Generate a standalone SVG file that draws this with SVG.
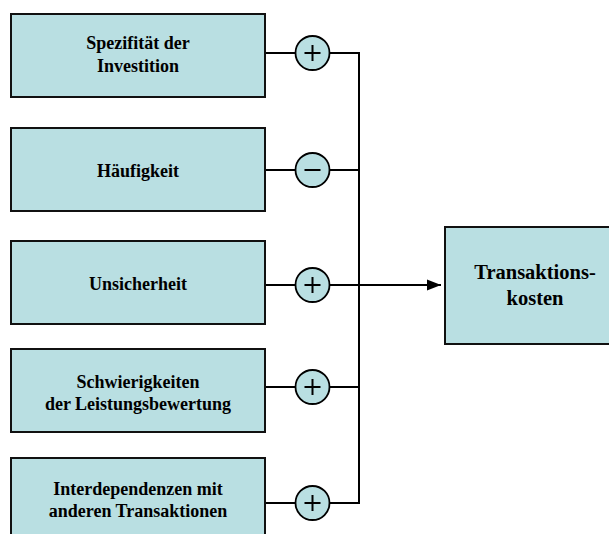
<svg xmlns="http://www.w3.org/2000/svg" width="609" height="534" viewBox="0 0 609 534">
<style>
.box{fill:#B9DFE2;stroke:#111;stroke-width:2}
.circ{fill:#B9DFE2;stroke:#000;stroke-width:1.8}
.sign{stroke:#000;stroke-width:2;fill:none}
.wire{stroke:#000;stroke-width:2;fill:none}
.t{font-family:"Liberation Serif","Times New Roman",serif;font-weight:bold;font-size:18px;fill:#000;text-anchor:middle}
.tb{font-size:20.5px}
</style>
<defs>
<marker id="arr" markerWidth="14" markerHeight="12" refX="14" refY="6" orient="auto" markerUnits="userSpaceOnUse">
<path d="M0,0.5 L14,6 L0,11.5 Z" fill="#000"/>
</marker>
</defs>
<rect width="609" height="534" fill="#fff"/>
<g id="connectors">
<path class="wire" d="M265,53 H295 M330,53 H359 M265,170 H295 M330,170 H359 M265,285 H295 M330,285 H359 M265,387 H295 M330,387 H359 M265,503 H295 M330,503 H359"/>
<path class="wire" d="M359,52 V504"/>
<path class="wire" d="M359,285 H441" marker-end="url(#arr)"/>
</g>
<g id="node-spezifitaet">
<rect class="box" x="11" y="14" width="254" height="83"/>
<text class="t" x="138" y="49">Spezifität der</text>
<text class="t" x="138" y="72">Investition</text>
</g>
<g id="node-haeufigkeit">
<rect class="box" x="11" y="128" width="254" height="83"/>
<text class="t" x="138" y="177">Häufigkeit</text>
</g>
<g id="node-unsicherheit">
<rect class="box" x="11" y="241" width="254" height="83"/>
<text class="t" x="138" y="290">Unsicherheit</text>
</g>
<g id="node-schwierigkeiten">
<rect class="box" x="11" y="349" width="254" height="83"/>
<text class="t" x="138" y="388">Schwierigkeiten</text>
<text class="t" x="138" y="410">der Leistungsbewertung</text>
</g>
<g id="node-interdependenzen">
<rect class="box" x="11" y="458" width="254" height="90"/>
<text class="t" x="138" y="495">Interdependenzen mit</text>
<text class="t" x="138" y="517">anderen Transaktionen</text>
</g>
<g id="node-transaktionskosten">
<rect class="box" x="445" y="227" width="180" height="117"/>
<text class="t tb" x="535" y="279">Transaktions-</text>
<text class="t tb" x="535" y="305">kosten</text>
</g>
<g id="sign-1"><circle class="circ" cx="312.5" cy="53" r="17"/><path class="sign" d="M304.5,53 H320.5 M312.5,45 V61"/></g>
<g id="sign-2"><circle class="circ" cx="312.5" cy="170" r="17"/><path class="sign" d="M304.5,170 H320.5"/></g>
<g id="sign-3"><circle class="circ" cx="312.5" cy="285" r="17"/><path class="sign" d="M304.5,285 H320.5 M312.5,277 V293"/></g>
<g id="sign-4"><circle class="circ" cx="312.5" cy="387" r="17"/><path class="sign" d="M304.5,387 H320.5 M312.5,379 V395"/></g>
<g id="sign-5"><circle class="circ" cx="312.5" cy="503" r="17"/><path class="sign" d="M304.5,503 H320.5 M312.5,495 V511"/></g>
</svg>
